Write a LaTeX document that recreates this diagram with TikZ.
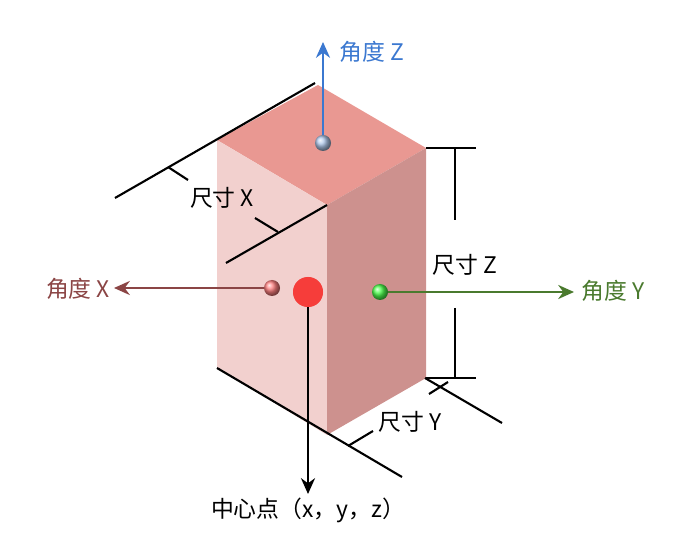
\documentclass[tikz,border=0pt]{standalone}
\usepackage{fontspec}
\setmainfont{Noto Sans CJK SC}
\usetikzlibrary{arrows.meta}
\definecolor{topc}{HTML}{E99892}
\definecolor{leftc}{HTML}{F2D0CE}
\definecolor{rightc}{HTML}{CD918E}
\definecolor{zc}{HTML}{3B78D0}
\definecolor{xc}{HTML}{8B4545}
\definecolor{yc}{HTML}{4A7A2E}
\tikzset{dim/.style={line width=1.2pt,black},
	ax/.style={line width=1.3pt,-{Stealth[length=9pt,width=8pt]}},
	lbl/.style={font=\fontsize{13}{15}\selectfont}}
\begin{document}
\begin{tikzpicture}[x=0.02cm,y=-0.02cm]
		% frame
		\useasboundingbox (0,0) rectangle (682,553);
		
		% the box
		\fill[topc] (217,140) -- (318,85) -- (426,148) -- (327,205) -- cycle;
		\fill[leftc] (217,140) -- (327,205) -- (327,435) -- (217,368) -- cycle;
		\fill[rightc] (327,205) -- (426,148) -- (426,378) -- (327,435) -- cycle;
		
		% size X
		\draw[dim] (115,198) -- (315,83);
		\draw[dim] (226,263) -- (327,205);
		\draw[dim] (168,167) -- (188,180);
		\draw[dim] (255,218) -- (278,232);
		\node[lbl] (sx) at (222,198) {尺寸 X};
		
		% size Z
		\draw[dim] (426,148) -- (476,148);
		\draw[dim] (426,378) -- (476,378);
		\draw[dim] (455,148) -- (455,220);
		\draw[dim] (455,308) -- (455,378);
		\node[lbl] (sz) at (465,265) {尺寸 Z};
		
		% size Y
		\draw[dim] (217,368) -- (402,477);
		\draw[dim] (425,378) -- (502,423);
		\draw[dim] (348,446) -- (373,431);
		\draw[dim] (429,394) -- (448,382);
		\node[lbl] (sy) at (410,422) {尺寸 Y};
		
		% angles
		\coordinate (bz) at (323,143);
		\coordinate (bx) at (272,288);
		\coordinate (by) at (380,292);
		\node[circle,fill=topc!80!red,minimum size=30*0.02cm,inner sep=0] (c) at (308,292) {};
		\coordinate (ez) at (323,42);
		\coordinate (ex) at (114,288);
		\coordinate (ey) at (574,292);
		\coordinate (ec) at (308,494);
		\draw[ax,zc] (bz) -- (ez);
		\draw[ax,xc] (bx) -- (ex);
		\draw[ax,yc] (by) -- (ey);
		\draw[ax,black] (c.center) -- (ec);
		\shade[ball color=zc!40!white] (bz) circle (8);
		\shade[ball color=red!50!white] (bx) circle (8);
		\shade[ball color=green!70!white] (by) circle (8);
		\fill[red!60!topc] (c) circle (15);
		
		\node[lbl,zc] (az) at (372,52) {角度 Z};
		\node[lbl,xc] (ax) at (78,289) {角度 X};
		\node[lbl,yc] (ay) at (613,291) {角度 Y};
		\node[lbl] (cn) at (308,510) {中心点（x，y，z）};
	\end{tikzpicture}
\end{document}
